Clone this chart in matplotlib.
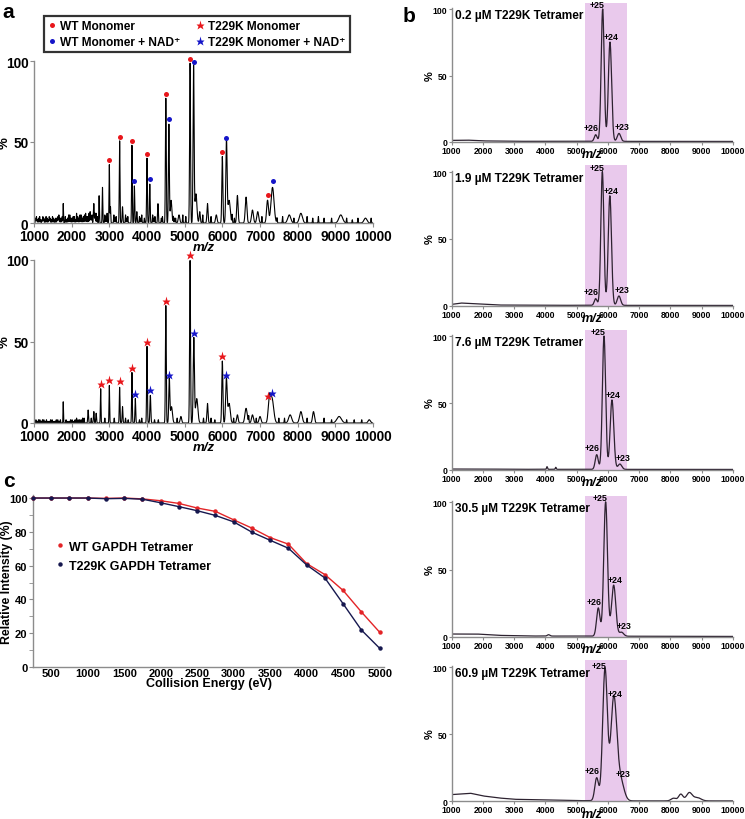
import numpy as np
import matplotlib
matplotlib.use("Agg")
import matplotlib.pyplot as plt
from matplotlib.patches import Rectangle
from matplotlib.lines import Line2D

plt.rcParams['font.family'] = ['Liberation Sans', 'DejaVu Sans']
plt.rcParams['font.weight'] = 'bold'
plt.rcParams['axes.labelweight'] = 'bold'

# ---------------- data: panel a (monomer spectra) ----------------
# WT monomer spectrum: peak list (m/z, height %, width)
wt_peak_mz = [1776, 2588, 2729, 2818, 3000, 3030, 3273, 3350, 3600, 3665, 3730, 4000, 4074,
              4291, 4500, 4581, 4640, 4850, 5143, 5237, 5300, 5400, 5606, 5840, 6000, 6110,
              6180, 6400, 6630, 6800, 6940, 7200, 7332, 7776, 8085, 9144, 9800]
wt_peak_h = [12, 12, 17, 22, 36, 10, 51, 10, 48, 23, 7, 40, 24,
             12, 77, 61, 14, 5, 99, 97, 18, 7, 12, 5, 41, 51,
             14, 17, 16, 8, 7, 14, 22, 5, 6, 5, 3]
wt_peak_w = [6, 10, 8, 8, 8, 8, 9, 10, 9, 9, 10, 10, 10,
             10, 11, 12, 20, 20, 12, 14, 25, 15, 15, 20, 14, 17,
             30, 18, 22, 25, 25, 25, 40, 40, 40, 50, 40]
wt_noise_mz = [1040, 1065, 1090, 1120, 1150, 1180, 1210, 1235, 1260, 1290, 1320, 1350, 1380,
               1405, 1430, 1460, 1490, 1520, 1550, 1580, 1610, 1635, 1660, 1690, 1720, 1750,
               1830, 1860, 1890, 1920, 1950, 1980, 2010, 2040, 2070, 2100, 2130, 2160, 2190,
               2220, 2250, 2280, 2310, 2340, 2370, 2400, 2430, 2460, 2490, 2515, 2540, 2620,
               2650, 2680, 2880, 2910, 2940, 3120, 3150, 3180, 3430, 3460, 3490, 3800, 3830,
               3860, 3930, 4150, 4180, 4210, 4380, 4410, 4700, 4730, 4760, 4950, 5030, 5480,
               5700, 6260, 6320, 7050, 7450, 7600, 7900, 8250, 8400, 8550, 8700, 8900, 9300,
               9450, 9600, 9950]
wt_noise_h = [3, 4, 2, 3, 4, 2, 2, 4, 3, 2, 4, 3, 2,
              4, 3, 2, 4, 3, 2, 3, 3, 4, 5, 3, 3, 4,
              4, 2, 3, 5, 5, 3, 3, 4, 4, 2, 6, 4, 3,
              5, 5, 3, 4, 5, 6, 4, 4, 6, 7, 4, 5, 6,
              6, 4, 5, 4, 6, 5, 3, 4, 5, 3, 4, 4, 3,
              5, 3, 5, 3, 4, 3, 4, 4, 3, 3, 5, 4, 5,
              4, 5, 3, 4, 3, 4, 3, 4, 3, 4, 3, 3, 3,
              2, 3, 3]
wt_apo_mz = [3000, 3273, 3600, 4000, 4500, 5143, 6000, 7200]
wt_apo_h = [38.8, 53.1, 50.4, 42.7, 79.5, 101.5, 43.7, 17.3]
wt_nad_mz = [3665, 4074, 4581, 5237, 6110, 7332]
wt_nad_h = [26.2, 27.0, 63.9, 99.1, 52.5, 26.2]

# T229K monomer spectrum
mut_peak_mz = [1776, 2437, 2588, 2650, 2770, 3000, 3273, 3350, 3600, 3690, 4000, 4089,
               4500, 4592, 4650, 4900, 5143, 5243, 5320, 5606, 6000, 6108, 6180, 6400,
               6630, 6800, 7000, 7247, 7317, 7800, 8085, 8420, 9100, 9900]
mut_peak_h = [13, 8, 7, 6, 21, 23, 22, 10, 31, 15, 47, 17,
              72, 27, 10, 4, 100, 52, 15, 12, 38, 27, 12, 5,
              9, 5, 4, 13, 15, 5, 7, 7, 4, 2]
mut_peak_w = [6, 10, 10, 10, 8, 8, 9, 10, 9, 10, 10, 12,
              11, 14, 25, 20, 12, 16, 30, 15, 15, 20, 30, 20,
              30, 25, 25, 30, 45, 40, 35, 25, 60, 30]
mut_noise_mz = [1050, 1085, 1120, 1155, 1190, 1225, 1260, 1295, 1330, 1365, 1400, 1440,
                1480, 1515, 1550, 1590, 1630, 1665, 1700, 1850, 1890, 1930, 1970, 2010,
                2050, 2090, 2130, 2170, 2210, 2250, 2290, 2330, 2520, 2880, 3130, 3430,
                3500, 3800, 3860, 4200, 4300, 4800, 5500, 5700, 5800, 6300, 6700, 6900,
                7500, 7650, 8250, 8700, 8900, 9300, 9500, 9700]
mut_noise_h = [2, 1, 2, 2, 1, 2, 2, 1, 2, 1, 1, 2,
               2, 1, 1, 2, 2, 1, 2, 2, 1, 1, 2, 2,
               1, 2, 3, 2, 2, 2, 3, 3, 3, 3, 3, 3,
               2, 2, 3, 2, 2, 3, 3, 3, 2, 3, 4, 3,
               3, 3, 3, 3, 2, 2, 2, 2]
mut_apo_mz = [2770, 3000, 3273, 3600, 4000, 4500, 5143, 6000, 7200]
mut_apo_h = [24.0, 26.4, 25.8, 33.6, 49.6, 74.6, 103.0, 41.0, 16.8]
mut_nad_mz = [3690, 4089, 4592, 5243, 6108, 7317]
mut_nad_h = [17.8, 20.5, 29.7, 55.2, 29.7, 18.6]

# ---------------- data: panel b (tetramer spectra) ----------------
b_titles = ['0.2 µM T229K Tetramer', '1.9 µM T229K Tetramer', '7.6 µM T229K Tetramer',
            '30.5 µM T229K Tetramer', '60.9 µM T229K Tetramer']
charge_labels = ['+26', '+25', '+24', '+23']
b_peak_mz = [[5607, 5830, 6064, 6352],
             [5607, 5820, 6060, 6350],
             [5640, 5873, 6128, 6380],
             [5690, 5925, 6182, 6430],
             [5638, 5905, 6185, 6400]]
b_peak_h = [[5, 100, 75, 6],
            [5, 100, 82, 7],
            [11, 100, 52, 4],
            [21, 100, 38, 3],
            [17, 98, 76, 15]]
b_peak_w = [[45, 48, 52, 55],
            [45, 48, 52, 55],
            [48, 52, 58, 60],
            [55, 60, 68, 70],
            [60, 75, 95, 110]]
b_base_mz = [[1000, 1500, 2000, 3000, 10000],
             [1000, 1300, 1700, 2500, 4000, 10000],
             [1000, 2000, 3000, 10000],
             [1000, 1800, 2500, 3500, 10000],
             [1000, 1600, 2000, 2500, 3000, 4000, 5000, 7000, 10000]]
b_base_h = [[1.0, 1.2, 0.6, 0.3, 0.2],
            [1.0, 2.0, 1.5, 0.5, 0.3, 0.2],
            [0.5, 0.5, 0.3, 0.2],
            [2.0, 2.0, 1.0, 0.5, 0.2],
            [5.0, 6.0, 4.0, 2.5, 1.5, 1.0, 0.5, 0.3, 0.3]]
b_minor_mz = [[], [], [4050, 4330], [4100], [8100, 8330, 8600, 8850]]
b_minor_h = [[], [], [2.0, 1.5], [1.0], [2.0, 5.0, 6.0, 2.5]]
b_minor_w = [[], [], [15, 15], [40], [80, 70, 90, 120]]
shade_range = [5280, 6620]

# ---------------- data: panel c (collision energy) ----------------
energy = [250, 500, 750, 1000, 1250, 1500, 1750, 2000, 2250, 2500, 2750, 3000,
          3250, 3500, 3750, 4000, 4250, 4500, 4750, 5000]
wt_int = [100, 100, 100, 100, 99.8, 100, 99.5, 98.4, 96.8, 94.1, 92.1, 87.1,
          82.2, 76.6, 72.7, 61.2, 54.7, 45.3, 32.6, 20.6]
mut_int = [100, 100, 100, 100, 99.6, 99.8, 99.3, 97.2, 94.9, 92.5, 89.7, 85.9,
           79.8, 75.0, 70.3, 60.4, 52.7, 37.4, 21.9, 11.1]

# ---------------- figure ----------------
W, H = 745, 820
fig = plt.figure(figsize=(W / 100, H / 100), dpi=100)


def add_ax(l, t, r, b):
    return fig.add_axes([l / W, 1 - b / H, (r - l) / W, (b - t) / H])


grid = np.arange(1000, 10001, 2.0)


def spectrum(mz, h, w, x=grid):
    y = np.zeros_like(x)
    for m, hh, ww in zip(mz, h, w):
        y += hh * np.exp(-0.5 * ((x - m) / ww) ** 2)
    return y


SPINE = '#8c8c8c'


def style_axes(ax, lab, tlen):
    for s in ['top', 'right']:
        ax.spines[s].set_visible(False)
    for s in ['left', 'bottom']:
        ax.spines[s].set_color(SPINE)
        ax.spines[s].set_linewidth(1.0)
    ax.tick_params(axis='both', colors=SPINE, labelcolor='black', labelsize=lab,
                   length=tlen, width=0.8, pad=1)
    for t in ax.get_xticklabels() + ax.get_yticklabels():
        t.set_fontweight('bold')


# ---- panel a
def panel_a(ax, pk, noise, apo, nad, marker, ms):
    y = spectrum(*pk) + spectrum(noise[0], noise[1], [7] * len(noise[0]))
    ax.plot(grid, y, color='black', lw=0.8)
    ax.set_xlim(1000, 10000)
    ax.set_ylim(0, 100)
    ax.set_xticks(np.arange(1000, 10001, 1000))
    ax.set_yticks([0, 50, 100])
    style_axes(ax, 9.8, 3)
    ax.plot(apo[0], apo[1], ls='none', marker=marker, color='#e8161b', ms=ms,
            mec='none', clip_on=False, zorder=5)
    ax.plot(nad[0], nad[1], ls='none', marker=marker, color='#1515c8', ms=ms,
            mec='none', clip_on=False, zorder=5)
    ax.set_xlabel('m/z', style='italic', fontsize=9.5, labelpad=-1)
    ax.set_ylabel('%', fontsize=9.5, labelpad=0)
    ax.yaxis.set_label_coords(-0.068, 0.5)


axa1 = add_ax(34, 62, 373, 224)
panel_a(axa1, (wt_peak_mz, wt_peak_h, wt_peak_w), (wt_noise_mz, wt_noise_h),
        (wt_apo_mz, wt_apo_h), (wt_nad_mz, wt_nad_h), 'o', 3.6)
axa2 = add_ax(34, 261, 373, 424)
panel_a(axa2, (mut_peak_mz, mut_peak_h, mut_peak_w), (mut_noise_mz, mut_noise_h),
        (mut_apo_mz, mut_apo_h), (mut_nad_mz, mut_nad_h), '*', 6.5)

handles = [Line2D([], [], ls='none', marker='o', color='#e8161b', ms=3.6, mec='none'),
           Line2D([], [], ls='none', marker='o', color='#1515c8', ms=3.6, mec='none'),
           Line2D([], [], ls='none', marker='*', color='#e8161b', ms=6.5, mec='none'),
           Line2D([], [], ls='none', marker='*', color='#1515c8', ms=6.5, mec='none')]
labels = ['WT Monomer', 'WT Monomer + NAD⁺', 'T229K Monomer', 'T229K Monomer + NAD⁺']
leg = fig.legend(handles, labels, ncol=2, loc='upper left',
                 bbox_to_anchor=(44 / W, 1 - 17 / H),
                 frameon=True, fancybox=False, handlelength=0.6, handletextpad=0.4,
                 columnspacing=1.3, borderpad=0.35, labelspacing=0.3,
                 borderaxespad=0, prop={'weight': 'bold', 'size': 8.6})
leg.get_frame().set_edgecolor('black')
leg.get_frame().set_linewidth(1.6)

# ---- panel b
b_tops = [9, 171.7, 336, 502, 666.7]
b_bots = [142.7, 306.7, 470.7, 637.7, 802.3]
lbl_off = [(-3, 5), (-4, 3), (1, 4), (2, 5)]
for i in range(5):
    ax = add_ax(451.7, b_tops[i], 733, b_bots[i])
    base = np.interp(grid, b_base_mz[i], b_base_h[i])
    y = base + spectrum(b_peak_mz[i], b_peak_h[i], b_peak_w[i]) + \
        spectrum(b_minor_mz[i], b_minor_h[i], b_minor_w[i])
    ax.add_patch(Rectangle((shade_range[0], 0), shade_range[1] - shade_range[0], 105,
                           facecolor='#e9c9ec', edgecolor='none', clip_on=False, zorder=0))
    ax.plot(grid, y, color='#2d2230', lw=0.9, zorder=2)
    ax.set_xlim(1000, 10000)
    ax.set_ylim(0, 101)
    ax.set_xticks(np.arange(1000, 10001, 1000))
    ax.set_yticks([0, 50, 100])
    style_axes(ax, 6.2, 2)
    ax.set_xlabel('m/z', style='italic', fontsize=9, labelpad=-5)
    ax.set_ylabel('%', fontsize=8, labelpad=0)
    ax.yaxis.set_label_coords(-0.062, 0.5)
    ax.text(0.01, 0.945, b_titles[i], transform=ax.transAxes, fontsize=8.6,
            fontweight='bold', ha='left', va='center')
    for j in range(4):
        yy = b_peak_h[i][j] + np.interp(b_peak_mz[i][j], b_base_mz[i], b_base_h[i])
        ax.annotate(charge_labels[j], (b_peak_mz[i][j], yy), xytext=lbl_off[j],
                    textcoords='offset points', ha='center', va='center',
                    fontsize=6.3, fontweight='bold', zorder=3, annotation_clip=False)

# ---- panel c
axc = add_ax(33, 496, 384, 668)
axc.plot(energy, wt_int, color='#e32427', lw=1.0, marker='o', ms=3.2,
         mec='none', label='WT GAPDH Tetramer', clip_on=False, zorder=3)
axc.plot(energy, mut_int, color='#16184f', lw=1.0, marker='o', ms=3.2,
         mec='none', label='T229K GAPDH Tetramer', clip_on=False, zorder=3)
axc.set_xlim(250, 5060)
axc.set_ylim(0, 101.8)
axc.set_xticks(np.arange(500, 5001, 500))
axc.set_yticks(np.arange(0, 101, 20))
axc.set_yticks(np.arange(10, 100, 20), minor=True)
style_axes(axc, 8.0, 3)
axc.tick_params(axis='y', which='minor', length=3, colors=SPINE)
axc.tick_params(axis='x', length=0)
axc.set_xlabel('Collision Energy (eV)', fontsize=9, labelpad=-1)
axc.set_ylabel('Relative Intensity (%)', fontsize=8.8)
axc.yaxis.set_label_coords(-0.058, 0.5)
axc.legend(loc='upper left', bbox_to_anchor=(0.035, 0.8), frameon=False,
           prop={'weight': 'bold', 'size': 9}, handlelength=0.5,
           handletextpad=0.5, labelspacing=0.55, markerscale=1.0)
for lh in axc.get_legend().get_lines():
    lh.set_linestyle('none')

# panel letters
fig.text(2 / W, 1 - 12 / H, 'a', fontsize=15, fontweight='bold', ha='left', va='center')
fig.text(403 / W, 1 - 16 / H, 'b', fontsize=15, fontweight='bold', ha='left', va='center')
fig.text(3 / W, 1 - 482 / H, 'c', fontsize=15, fontweight='bold', ha='left', va='center')

fig.savefig('out.png', dpi=100)
